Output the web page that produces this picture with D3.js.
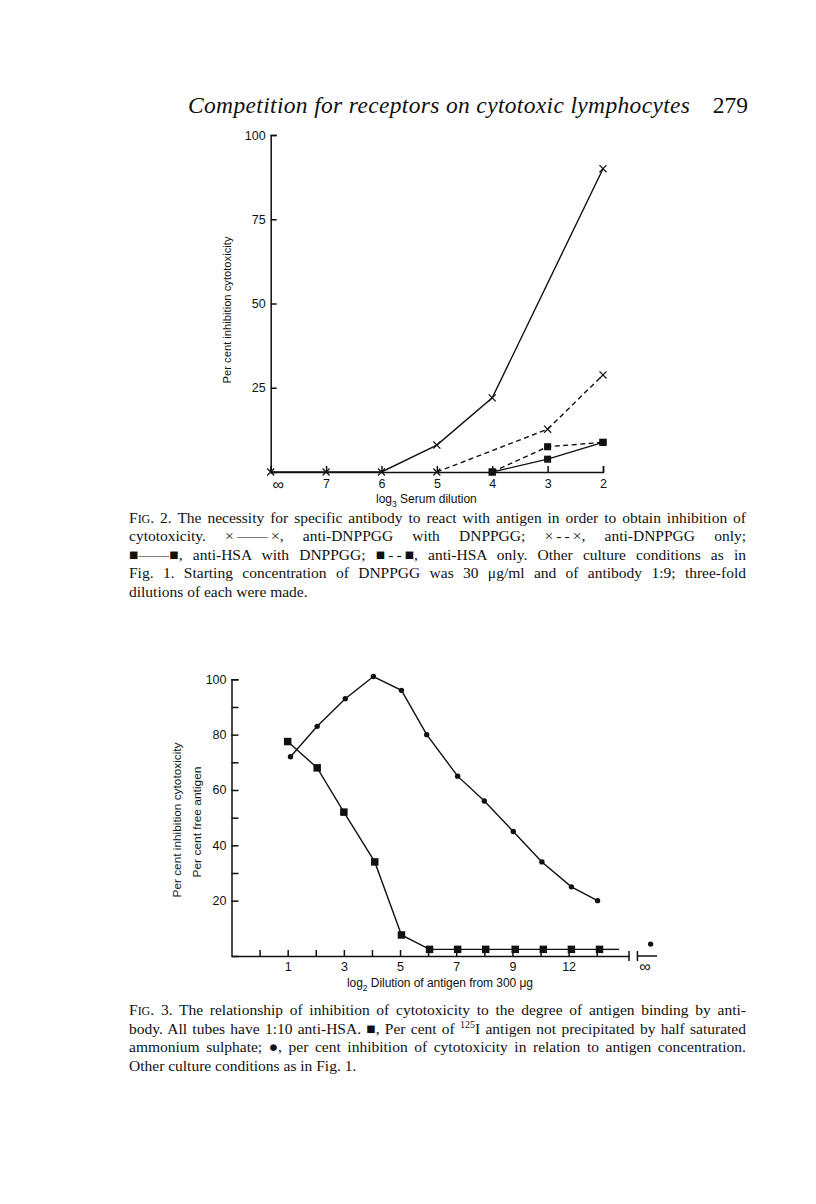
<!DOCTYPE html>
<html>
<head>
<meta charset="utf-8">
<script src="https://cdn.jsdelivr.net/npm/d3@7"></script>
<style>
  body { margin: 0; background: #fff; }
  svg { display: block; }
</style>
</head>
<body>
<script>
// page header
const pageTitle = "Competition for receptors on cytotoxic lymphocytes"
const pageNumber = "279"

// Fig. 2 — log3 serum dilution (∞ drawn at position 8)
const f2TickPos = [8, 7, 6, 5, 4, 3, 2]
const f2TickText = ["∞", "7", "6", "5", "4", "3", "2"]
const f2YTicks = [25, 50, 75, 100]
const dnpWithX = [8, 7, 6, 5, 4, 2]
const dnpWithY = [0, 0, 0, 8, 22, 90]
const dnpOnlyX = [5, 3, 2]
const dnpOnlyY = [0, 12.7, 28.8]
const hsaWithX = [4, 3, 2]
const hsaWithY = [0, 3.8, 8.8]
const hsaOnlyX = [4, 3, 2]
const hsaOnlyY = [0, 7.5, 8.8]

// Fig. 3 — log2 dilution of antigen
const f3TickPos = [0, 1, 2, 3, 4, 5, 6, 7, 8, 9, 10, 11, 12]
const f3LabelPos = [1, 3, 5, 7, 9, 11]
const f3LabelText = ["1", "3", "5", "7", "9", "12"]
const f3YTicks = [20, 30, 40, 50, 60, 70, 80, 90, 100]
const inhibX = [1.1, 2.05, 3.05, 4.05, 5.05, 5.95, 7.05, 8, 9.03, 10.05, 11.1, 12.03]
const inhibY = [72, 83, 93, 101, 96, 80, 65, 56, 45, 34, 25, 20]
const freeX = [1, 2.05, 3, 4.1, 5.05, 6.05, 7.05, 8.05, 9.1, 10.1, 11.1, 12.1]
const freeY = [77.5, 68, 52, 34, 7.6, 2.4, 2.4, 2.4, 2.4, 2.4, 2.4, 2.4]
const freeTailX = [12.1, 12.8]
const freeTailY = [2.4, 2.4]
const infPos = 13.92
const infInhib = 4.3

const cap2 = [
  [["F"], ["IG", "sc"], [". 2. The necessity for specific antibody to react with antigen in order to obtain inhibition of"]],
  [["cytotoxicity. ×\u2009——\u2009×, anti-DNPPGG with DNPPGG; ×\u2009-\u2009-\u2009×, anti-DNPPGG only;"]],
  [["■——■, anti-HSA with DNPPGG; ■\u2009-\u2009-\u2009■, anti-HSA only. Other culture conditions as in"]],
  [["Fig. 1. Starting concentration of DNPPGG was 30 μg/ml and of antibody 1:9; three-fold"]],
  [["dilutions of each were made."]]
]
const cap3 = [
  [["F"], ["IG", "sc"], [". 3. The relationship of inhibition of cytotoxicity to the degree of antigen binding by anti-"]],
  [["body. All tubes have 1:10 anti-HSA. ■, Per cent of "], ["125", "sup"], ["I antigen not precipitated by half saturated"]],
  [["ammonium sulphate; ●, per cent inhibition of cytotoxicity in relation to antigen concentration."]],
  [["Other culture conditions as in Fig. 1."]]
]

const sans = "Liberation Sans, Arial, sans-serif"
const serif = "Liberation Serif, Times New Roman, serif"
const ink = "#111"

const svg = d3.select("body").append("svg").attr("width", 816).attr("height", 1204)

svg.append("text")
  .attr("x", 188).attr("y", 113)
  .attr("font-family", serif).attr("font-style", "italic")
  .attr("font-size", 23.5).attr("fill", ink)
  .attr("textLength", 502)
  .text(pageTitle)
svg.append("text")
  .attr("x", 748).attr("y", 113).attr("text-anchor", "end")
  .attr("font-family", serif).attr("font-size", 23.5).attr("fill", ink)
  .text(pageNumber)

function zip(xs, ys) { return xs.map((x, i) => [x, ys[i]]) }

function styleAxis(g, size) {
  g.selectAll("path, line").attr("stroke", ink).attr("stroke-width", 1.5)
  g.selectAll("text").attr("font-family", sans).attr("font-size", size).attr("fill", ink)
}

function rotLabel(text, cx, cy, len) {
  svg.append("text")
    .attr("transform", `translate(${cx + 4},${cy}) rotate(-90)`)
    .attr("text-anchor", "middle")
    .attr("font-family", sans).attr("font-size", 11).attr("fill", ink)
    .attr("textLength", len).attr("lengthAdjust", "spacingAndGlyphs")
    .text(text)
}

// ---------- Fig. 2 ----------
const x2 = d3.scaleLinear().domain([8, 2]).range([270.7, 603])
const y2 = d3.scaleLinear().domain([0, 100]).range([472, 135])

const f2 = svg.append("g")
f2.append("g")
  .attr("transform", "translate(270.7,0)")
  .call(d3.axisLeft(y2).tickValues(f2YTicks).tickSize(-6).tickPadding(5))
  .call(g => styleAxis(g, 12.5))
f2.append("g")
  .attr("transform", "translate(0,472)")
  .call(d3.axisBottom(x2).tickValues(f2TickPos).tickSize(-6).tickPadding(7)
    .tickFormat((d, i) => f2TickText[i]))
  .call(g => styleAxis(g, 12.5))
  .call(g => g.selectAll(".tick text")
    .attr("dx", (d, i) => (i === 0 ? 7 : 0))
    .attr("font-size", (d, i) => (i === 0 ? 16 : 12.5)))

const line2 = d3.line().x(d => x2(d[0])).y(d => y2(d[1]))
const series2 = [
  { pts: zip(dnpWithX, dnpWithY), dash: null, mark: "x" },
  { pts: zip(dnpOnlyX, dnpOnlyY), dash: "5,3.5", mark: "x" },
  { pts: zip(hsaWithX, hsaWithY), dash: null, mark: "sq" },
  { pts: zip(hsaOnlyX, hsaOnlyY), dash: "5,3.5", mark: "sq" }
]
series2.forEach(s => {
  f2.append("path")
    .attr("d", line2(s.pts))
    .attr("fill", "none").attr("stroke", ink).attr("stroke-width", 1.4)
    .attr("stroke-dasharray", s.dash)
  const m = f2.append("g").selectAll("path").data(s.pts).enter().append("path")
    .attr("transform", d => `translate(${x2(d[0])},${y2(d[1])})`)
    .attr("fill", ink)
  if (s.mark === "x") {
    m.attr("d", d3.symbol(d3.symbolTimes || d3.symbolX, 34)())
      .attr("fill", "none").attr("stroke", ink).attr("stroke-width", 1.2)
  } else {
    m.attr("d", d3.symbol(d3.symbolSquare, 50)())
  }
})

rotLabel("Per cent inhibition cytotoxicity", 227, 310, 147)
svg.append("text")
  .attr("x", 376).attr("y", 503)
  .attr("font-family", sans).attr("font-size", 12).attr("fill", ink)
  .call(t => {
    t.append("tspan").text("log")
    t.append("tspan").attr("font-size", 8.5).attr("dy", 3.5).text("3")
    t.append("tspan").attr("dy", -3.5).text(" Serum dilution")
  })

// ---------- Fig. 3 ----------
const x3 = d3.scaleLinear().domain([-1, 13.15]).range([231.5, 629])
const y3 = d3.scaleLinear().domain([0, 100]).range([956, 679.3])

const f3 = svg.append("g")
f3.append("g")
  .attr("transform", "translate(231.5,0)")
  .call(d3.axisLeft(y3).tickValues(f3YTicks).tickSize(-7).tickPadding(5)
    .tickFormat(d => (d % 20 === 0 ? d : "")))
  .call(g => styleAxis(g, 12.5))
f3.append("g")
  .attr("transform", "translate(0,956)")
  .call(d3.axisBottom(x3).tickValues(f3TickPos).tickSizeInner(-6).tickSizeOuter(0).tickPadding(6)
    .tickFormat(d => {
      const k = f3LabelPos.indexOf(d)
      return k < 0 ? "" : f3LabelText[k]
    }))
  .call(g => styleAxis(g, 12.5))

// axis break and the ∞ segment
const brk = f3.append("g").attr("stroke", ink).attr("stroke-width", 1.5)
brk.append("line").attr("x1", x3(13.15)).attr("x2", x3(13.15)).attr("y1", 951).attr("y2", 961)
brk.append("line").attr("x1", x3(13.45)).attr("x2", x3(13.45)).attr("y1", 951).attr("y2", 961)
brk.append("line").attr("x1", x3(13.45)).attr("x2", x3(14.15)).attr("y1", 956).attr("y2", 956)
f3.append("text")
  .attr("x", x3(13.72)).attr("y", 972).attr("text-anchor", "middle")
  .attr("font-family", sans).attr("font-size", 16).attr("fill", ink)
  .text("∞")

const line3 = d3.line().x(d => x3(d[0])).y(d => y3(d[1]))
;[zip(inhibX, inhibY), zip(freeX, freeY), zip(freeTailX, freeTailY)].forEach(pts => {
  f3.append("path").attr("d", line3(pts))
    .attr("fill", "none").attr("stroke", ink).attr("stroke-width", 1.4)
})

f3.append("g").selectAll("circle").data(zip(inhibX, inhibY)).enter().append("circle")
  .attr("cx", d => x3(d[0])).attr("cy", d => y3(d[1])).attr("r", 2.7).attr("fill", ink)
f3.append("circle").attr("cx", x3(infPos)).attr("cy", y3(infInhib)).attr("r", 2.7).attr("fill", ink)
f3.append("g").selectAll("path").data(zip(freeX, freeY)).enter().append("path")
  .attr("transform", d => `translate(${x3(d[0])},${y3(d[1])})`)
  .attr("d", d3.symbol(d3.symbolSquare, 56)())
  .attr("fill", ink)

rotLabel("Per cent inhibition cytotoxicity", 177, 820, 155)
rotLabel("Per cent free antigen", 197, 822, 111)
svg.append("text")
  .attr("x", 347).attr("y", 987)
  .attr("font-family", sans).attr("font-size", 12).attr("fill", ink)
  .attr("textLength", 186).attr("lengthAdjust", "spacing")
  .call(t => {
    t.append("tspan").text("log")
    t.append("tspan").attr("font-size", 8.5).attr("dy", 3.5).text("2")
    t.append("tspan").attr("dy", -3.5).text(" Dilution of antigen from 300 μg")
  })

// ---------- captions ----------
function caption(lines, x, y0, lh, width) {
  lines.forEach((segs, i) => {
    const t = svg.append("text")
      .attr("x", x).attr("y", y0 + i * lh)
      .attr("font-family", serif).attr("font-size", 15.5).attr("fill", ink)
    let back = 0
    segs.forEach(([s, kind]) => {
      const ts = t.append("tspan").text(s)
      if (kind === "sc") ts.attr("font-size", 12)
      if (kind === "sup") {
        ts.attr("font-size", 10).attr("dy", -6)
        back = 6
      } else if (back) {
        ts.attr("dy", back)
        back = 0
      }
    })
    if (i < lines.length - 1) {
      const full = segs.map(d => d[0]).join("")
      const spaces = (full.match(/ /g) || []).length
      const len = t.node().getComputedTextLength()
      t.attr("word-spacing", (width - len) / spaces)
    }
  })
}
caption(cap2, 129, 523, 18.4, 617)
caption(cap3, 129, 1015, 18.5, 617)
</script>
</body>
</html>
